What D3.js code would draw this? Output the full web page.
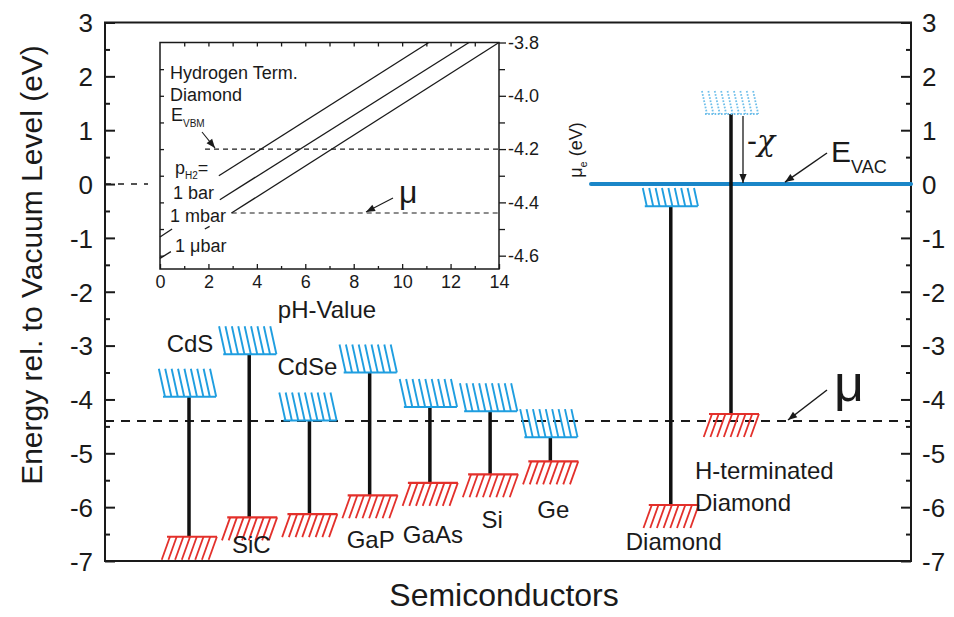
<!DOCTYPE html>
<meta charset="utf-8">
<style>
body { margin: 0; background: #fff; }
text { font-family: "Liberation Sans", Arial, sans-serif; fill: #1a1a1a; }
.axis path { stroke: none; }
.axis line { stroke: #1a1a1a; stroke-width: 2; }
.inset .axis line { stroke-width: 1.3; }
</style>
<head>
    <title>Band edges vs vacuum level</title>
</head>

<script src="https://d3js.org/d3.v7.min.js"></script>

<div id="chart"></div>

<script>
// band edges (eV rel. to vacuum)
var materials = ["CdS", "SiC", "CdSe", "GaP", "GaAs", "Si", "Ge", "Diamond", "H-terminated Diamond"];
var slots     = [0, 1, 2, 3, 4, 5, 6, 8, 9];
var cbEdge    = [-3.95, -3.16, -4.39, -3.50, -4.14, -4.22, -4.70, -0.41, 1.30];
var vbEdge    = [-6.55, -6.19, -6.13, -5.78, -5.55, -5.39, -5.15, -5.96, -4.27];
var eVac = 0;
var muLevel = -4.4;
var yTicks = [-7, -6, -5, -4, -3, -2, -1, 0, 1, 2, 3];

// inset: electrochemical potential vs pH
var pressures = ["1 bar", "1 mbar", "1 \u03bcbar"];
var insetSegments = [
  [[[2.43, -4.30], [11.1, -3.8]]],
  [[[2.47, -4.39], [12.76, -3.8]], [[0, -4.53], [0.5, -4.50]]],
  [[[2.95, -4.44], [14, -3.8]], [[0, -4.61], [0.45, -4.585]], [[1.85, -4.50], [2.05, -4.49]]]
];
var insetVbm = -4.2;
var insetMu = -4.44;
var pHTicks = [0, 2, 4, 6, 8, 10, 12, 14];
var muTicks = [-4.6, -4.4, -4.2, -4.0, -3.8];

var width = 954, height = 617;
var svg = d3.select("#chart").append("svg")
    .attr("width", width).attr("height", height);

var defs = svg.append("defs");
defs.append("marker").attr("id", "head")
    .attr("viewBox", "0 -5 10 10").attr("refX", 10).attr("refY", 0)
    .attr("markerUnits", "userSpaceOnUse")
    .attr("markerWidth", 11).attr("markerHeight", 9).attr("orient", "auto")
  .append("path").attr("d", "M0,-4L10,0L0,4Z").attr("fill", "#1a1a1a");

var blue = "#1f9ee0", red = "#e3302b", vacBlue = "#1a86c8";

// main scales
var x = d3.scaleLinear().domain([0, 9]).range([189, 731]);
var y = d3.scaleLinear().domain([-7, 3]).range([561, 22.5]);
var left = 105, right = 911;

// y axes, ticks pointing inward
function halfTicks() { return d3.range(-6.5, 3, 1); }
svg.append("g").attr("class", "axis").attr("transform", "translate(" + left + ",0)")
    .call(d3.axisLeft(y).tickValues(yTicks).tickSizeInner(-10).tickSizeOuter(0).tickPadding(12)
      .tickFormat(function(d) { return String(d); }))
    .selectAll("text").style("font-size", "26px").attr("dy", "0.36em");
svg.append("g").attr("class", "axis").attr("transform", "translate(" + left + ",0)")
    .call(d3.axisLeft(y).tickValues(halfTicks()).tickSizeInner(-5).tickSizeOuter(0).tickFormat(""));
svg.append("g").attr("class", "axis").attr("transform", "translate(" + right + ",0)")
    .call(d3.axisRight(y).tickValues(yTicks).tickSizeInner(-10).tickSizeOuter(0).tickPadding(11)
      .tickFormat(function(d) { return String(d); }))
    .selectAll("text").style("font-size", "26px").attr("dy", "0.36em");
svg.append("g").attr("class", "axis").attr("transform", "translate(" + right + ",0)")
    .call(d3.axisRight(y).tickValues(halfTicks()).tickSizeInner(-5).tickSizeOuter(0).tickFormat(""));

svg.append("rect").attr("x", left).attr("y", y(3)).attr("width", right - left).attr("height", y(-7) - y(3))
    .attr("fill", "none").attr("stroke", "#1a1a1a").attr("stroke-width", 2);

// axis titles
svg.append("text").attr("transform", "translate(42," + 265 + ") rotate(-90)")
    .attr("text-anchor", "middle").style("font-size", "30px")
    .text("Energy rel. to Vacuum Level (eV)");
svg.append("text").attr("x", 504).attr("y", 606).attr("text-anchor", "middle")
    .style("font-size", "32px").text("Semiconductors");

// dashed reference levels
svg.append("line").attr("x1", left).attr("x2", right).attr("y1", y(muLevel)).attr("y2", y(muLevel))
    .attr("stroke", "#1a1a1a").attr("stroke-width", 2).attr("stroke-dasharray", "9,7");
svg.append("line").attr("x1", left).attr("x2", 148).attr("y1", y(eVac)).attr("y2", y(eVac))
    .attr("stroke", "#1a1a1a").attr("stroke-width", 1.5).attr("stroke-dasharray", "6,7");

// vacuum level
svg.append("line").attr("x1", 591).attr("x2", right).attr("y1", y(eVac)).attr("y2", y(eVac))
    .attr("stroke", vacBlue).attr("stroke-width", 4).attr("stroke-linecap", "round");

// hatched band edges
function cbHatch(cx, yl, h, color, dotted) {
  var g = svg.append("g").attr("stroke", color).attr("fill", "none");
  if (dotted) g.attr("stroke-dasharray", "1.6,1.6");
  g.append("line").attr("x1", cx - 26).attr("x2", cx + 27).attr("y1", yl).attr("y2", yl)
      .attr("stroke-width", 2);
  for (var k = 0; k < 9; k++) {
    var xb = cx - 24 + k * 6.4;
    g.append("line").attr("x1", xb - h * 0.22).attr("y1", yl - h).attr("x2", xb).attr("y2", yl)
        .attr("stroke-width", dotted ? 1.8 : 1.9);
  }
}
function vbHatch(cx, yl, h, color) {
  var g = svg.append("g").attr("stroke", color).attr("fill", "none");
  g.append("line").attr("x1", cx - 22).attr("x2", cx + 28).attr("y1", yl).attr("y2", yl)
      .attr("stroke-width", 2.2);
  for (var k = 0; k < 8; k++) {
    var xt = cx - 19 + k * 6.7;
    g.append("line").attr("x1", xt).attr("y1", yl).attr("x2", xt - h * 0.36).attr("y2", yl + h)
        .attr("stroke-width", 1.8);
  }
}

materials.forEach(function(m, i) {
  var cx = x(slots[i]);
  svg.append("line").attr("x1", cx).attr("x2", cx).attr("y1", y(cbEdge[i])).attr("y2", y(vbEdge[i]))
      .attr("stroke", "#111").attr("stroke-width", 3.5);
  var hb = Math.min(28, y(cbEdge[i]) - y(eVac) - 4);
  if (cbEdge[i] > eVac) hb = 23;
  cbHatch(cx, y(cbEdge[i]), hb, cbEdge[i] > eVac ? "#6fbfea" : blue, cbEdge[i] > eVac);
  vbHatch(cx, y(vbEdge[i]), 23, red);
});

// labels, offsets from the band edge they sit next to
var labelPlace = {
  "CdS":     {edge: "cb", dx: 1, dy: -45},
  "SiC":     {edge: "vb", dx: 2, dy: 36},
  "CdSe":    {edge: "cb", dx: -2, dy: -45},
  "GaP":     {edge: "vb", dx: 1, dy: 53},
  "GaAs":    {edge: "vb", dx: 3, dy: 60},
  "Si":      {edge: "vb", dx: 2, dy: 54},
  "Ge":      {edge: "vb", dx: 3, dy: 57},
  "Diamond": {edge: "vb", dx: 3, dy: 45}
};
materials.forEach(function(m, i) {
  var p = labelPlace[m];
  if (!p) return;
  svg.append("text").attr("x", x(slots[i]) + p.dx)
      .attr("y", y(p.edge === "cb" ? cbEdge[i] : vbEdge[i]) + p.dy)
      .attr("text-anchor", "middle").style("font-size", "24px").text(m);
});
var hIdx = materials.length - 1;
var hLab = svg.append("text").attr("x", x(slots[hIdx]) - 36).attr("y", y(vbEdge[hIdx]) + 65)
    .style("font-size", "24px");
hLab.append("tspan").text("H-terminated");
hLab.append("tspan").attr("x", x(slots[hIdx]) - 36).attr("dy", 32).text("Diamond");

// electron affinity arrow
var chiX = x(slots[hIdx]) + 12;
svg.append("line").attr("x1", chiX).attr("x2", chiX).attr("y1", y(cbEdge[hIdx]) + 2).attr("y2", y(eVac) - 1)
    .attr("stroke", "#1a1a1a").attr("stroke-width", 1.3).attr("marker-end", "url(#head)");
var chi = svg.append("text").attr("x", chiX + 4).attr("y", y(eVac) - 33).style("font-size", "30px");
chi.append("tspan").text("-");
chi.append("tspan").style("font-family", "'DejaVu Serif', serif").style("font-style", "italic").text("\u03c7");

// E_VAC and mu annotations
svg.append("line").attr("x1", 827).attr("y1", 153).attr("x2", 785).attr("y2", y(eVac) - 2)
    .attr("stroke", "#1a1a1a").attr("stroke-width", 1.5).attr("marker-end", "url(#head)");
var ev = svg.append("text").attr("x", 831).attr("y", 162).style("font-size", "30px");
ev.append("tspan").text("E");
ev.append("tspan").attr("dy", 11).style("font-size", "18px").text("VAC");

svg.append("line").attr("x1", 827).attr("y1", 390).attr("x2", 788).attr("y2", y(muLevel) - 1)
    .attr("stroke", "#1a1a1a").attr("stroke-width", 1.5).attr("marker-end", "url(#head)");
svg.append("text").attr("x", 834).attr("y", 401).style("font-size", "52px").text("\u03bc");

// ---------- inset ----------
var inset = svg.append("g").attr("class", "inset");
var xi = d3.scaleLinear().domain([0, 14]).range([160, 499]);
var yi = d3.scaleLinear().domain([-4.65, -3.8]).range([269, 42.5]);

inset.append("g").attr("class", "axis").attr("transform", "translate(0," + yi(-4.65) + ")")
    .call(d3.axisBottom(xi).tickValues(pHTicks).tickSizeInner(-5).tickSizeOuter(0).tickPadding(6))
    .selectAll("text").style("font-size", "18px");
inset.append("g").attr("class", "axis").attr("transform", "translate(0," + yi(-4.65) + ")")
    .call(d3.axisBottom(xi).tickValues(d3.range(1, 14, 2)).tickSizeInner(-3).tickSizeOuter(0).tickFormat(""));
inset.append("g").attr("class", "axis").attr("transform", "translate(0," + yi(-3.8) + ")")
    .call(d3.axisTop(xi).tickValues(d3.range(1, 14, 1)).tickSizeInner(-4).tickSizeOuter(0).tickFormat(""));
inset.append("g").attr("class", "axis").attr("transform", "translate(" + xi(14) + ",0)")
    .call(d3.axisRight(yi).tickValues(muTicks).tickSizeInner(7).tickSizeOuter(0).tickPadding(2)
      .tickFormat(function(d) { return d.toFixed(1); }))
    .selectAll("text").style("font-size", "18px");
inset.append("g").attr("class", "axis").attr("transform", "translate(" + xi(14) + ",0)")
    .call(d3.axisRight(yi).tickValues([-4.5, -4.3, -4.1, -3.9]).tickSizeInner(6).tickSizeOuter(0).tickFormat(""));
inset.append("g").attr("class", "axis").attr("transform", "translate(" + xi(0) + ",0)")
    .call(d3.axisLeft(yi).tickValues([-4.6, -4.5, -4.4, -4.3, -4.2, -4.1, -4.0, -3.9]).tickSizeInner(-4).tickSizeOuter(0).tickFormat(""));

inset.append("rect").attr("x", xi(0)).attr("y", yi(-3.8)).attr("width", xi(14) - xi(0))
    .attr("height", yi(-4.65) - yi(-3.8)).attr("fill", "none").attr("stroke", "#1a1a1a").attr("stroke-width", 1.5);

// dashed levels in inset
inset.append("line").attr("x1", xi(1.86)).attr("x2", xi(14)).attr("y1", yi(insetVbm)).attr("y2", yi(insetVbm))
    .attr("stroke", "#1a1a1a").attr("stroke-width", 1.1).attr("stroke-dasharray", "5,4");
inset.append("line").attr("x1", xi(2.96)).attr("x2", xi(14)).attr("y1", yi(insetMu)).attr("y2", yi(insetMu))
    .attr("stroke", "#1a1a1a").attr("stroke-width", 1.1).attr("stroke-dasharray", "5,4");

// H2 pressure lines
var seg = d3.line().x(function(d) { return xi(d[0]); }).y(function(d) { return yi(d[1]); });
insetSegments.forEach(function(parts) {
  parts.forEach(function(p) {
    inset.append("path").attr("d", seg(p)).attr("fill", "none")
        .attr("stroke", "#1a1a1a").attr("stroke-width", 1.3);
  });
});

// inset texts
function itext(tx, ty, size) {
  return inset.append("text").attr("x", tx).attr("y", ty).style("font-size", size + "px");
}
itext(170, 79, 18).text("Hydrogen Term.");
itext(170, 101, 18).text("Diamond");
var evbm = itext(171, 121, 18);
evbm.append("tspan").text("E");
evbm.append("tspan").attr("dy", 6).style("font-size", "10px").text("VBM");
var ph2 = itext(175, 174, 18);
ph2.append("tspan").text("p");
ph2.append("tspan").attr("dy", 5).style("font-size", "10px").text("H2");
ph2.append("tspan").attr("dy", -5).text("=");
itext(173, 199, 18).text(pressures[0]);
itext(170, 222, 18).text(pressures[1]);
itext(175, 252, 18).text(pressures[2]);

inset.append("line").attr("x1", 202).attr("y1", 132).attr("x2", 215).attr("y2", yi(insetVbm) - 1)
    .attr("stroke", "#1a1a1a").attr("stroke-width", 1.1).attr("marker-end", "url(#head)");
inset.append("line").attr("x1", 393).attr("y1", 198).attr("x2", 366).attr("y2", yi(insetMu) - 1)
    .attr("stroke", "#1a1a1a").attr("stroke-width", 1.1).attr("marker-end", "url(#head)");
itext(399, 203, 32).text("\u03bc");

var mue = inset.append("text").attr("transform", "translate(582,150) rotate(-90)")
    .attr("text-anchor", "middle").style("font-size", "18px");
mue.append("tspan").text("\u03bc");
mue.append("tspan").attr("dy", 5).style("font-size", "11px").text("e");
mue.append("tspan").attr("dy", -5).text(" (eV)");

inset.append("text").attr("x", 327).attr("y", 318).attr("text-anchor", "middle")
    .style("font-size", "24px").text("pH-Value");
</script>
